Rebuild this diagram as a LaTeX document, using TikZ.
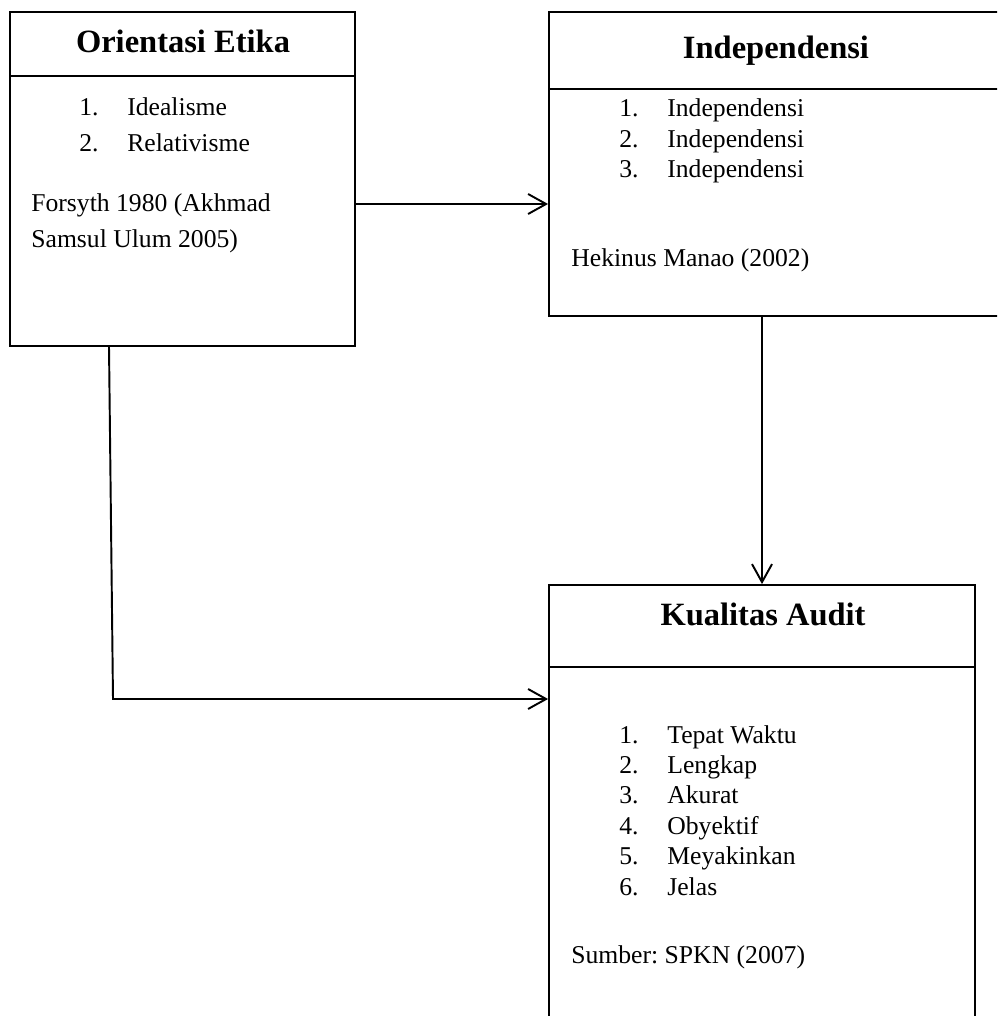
\documentclass[tikz,border=0pt]{standalone}
\usepackage{fontspec}
\setmainfont{Liberation Serif}
\usetikzlibrary{arrows.meta}
\frenchspacing

\tikzset{
    boxframe/.style={draw, line width=1.1pt, inner sep=0pt},
    boxtitle/.style={anchor=base, inner sep=0pt, font=\fontsize{18.5}{22}\selectfont\bfseries},
    boxtext/.style={anchor=base west, inner sep=0pt, font=\fontsize{14.6}{17}\selectfont},
    link/.style={line width=1.1pt, -{Straight Barb[length=3.6mm, width=4mm]}}
}

\begin{document}
\begin{tikzpicture}[x=0.02cm, y=-0.02cm]
    \useasboundingbox (0,0) rectangle (997,1016);
    \clip (0,0) rectangle (997,1016);

    % --- BOXES ---
    \node[boxframe, line width=0.8pt, minimum width=6.9cm, minimum height=6.68cm] (etika) at (182.5,179) {};
    \node[boxframe, minimum width=9.42cm, minimum height=6.08cm] (indep) at (784.5,164) {};
    \node[boxframe, minimum width=8.52cm, minimum height=9.1cm] (kualitas) at (762,812.5) {};

    % Header rules
    \coordinate (h1) at (0,76); \coordinate (h2) at (0,89); \coordinate (h3) at (0,667);
    \draw[line width=0.8pt] (etika.west |- h1) -- (etika.east |- h1);
    \draw[line width=1.1pt] (indep.west |- h2) -- (indep.east |- h2);
    \draw[line width=1.1pt] (kualitas.west |- h3) -- (kualitas.east |- h3);

    % Titles
    \node[boxtitle] (etika-title) at (183,53) {Orientasi Etika};
    \node[boxtitle] (indep-title) at (776,59) {Independensi};
    \node[boxtitle] (kualitas-title) at (763,625) {Kualitas Audit};

    % --- ORIENTASI ETIKA ---
    \foreach \t [count=\n] in {Idealisme, Relativisme} {
        \node[boxtext] (etika-num\n) at (79,{116+36*(\n-1)}) {\n.};
        \node[boxtext] (etika-item\n) at (127,{116+36*(\n-1)}) {\t};
    }
    \node[boxtext] (etika-src1) at (31,212) {Forsyth 1980 (Akhmad};
    \node[boxtext] (etika-src2) at (31,248) {Samsul Ulum 2005)};

    % --- INDEPENDENSI ---
    \foreach \n in {1,2,3} {
        \node[boxtext] (indep-num\n) at (619,{117+30.5*(\n-1)}) {\n.};
        \node[boxtext] (indep-item\n) at (667,{117+30.5*(\n-1)}) {Independensi};
    }
    \node[boxtext] (indep-src) at (571,267) {Hekinus Manao (2002)};

    % --- KUALITAS AUDIT ---
    \foreach \t [count=\n] in {Tepat Waktu, Lengkap, Akurat, Obyektif, Meyakinkan, Jelas} {
        \node[boxtext] (kualitas-num\n) at (619,{743+30.4*(\n-1)}) {\n.};
        \node[boxtext] (kualitas-item\n) at (667,{743+30.4*(\n-1)}) {\t};
    }
    \node[boxtext] (kualitas-src) at (571,963) {Sumber: SPKN (2007)};

    % --- CONNECTORS ---
    \coordinate (mid) at (0,204);
    \coordinate (drop) at (109,0);
    \coordinate (bend) at (113,699);
    \draw[link] (etika.east |- mid) -- (indep.west |- mid);
    \draw[link] (indep.south -| kualitas.north) -- (kualitas.north);
    \draw[link] (etika.south -| drop) -- (bend) -- (kualitas.west |- bend);
\end{tikzpicture}
\end{document}
